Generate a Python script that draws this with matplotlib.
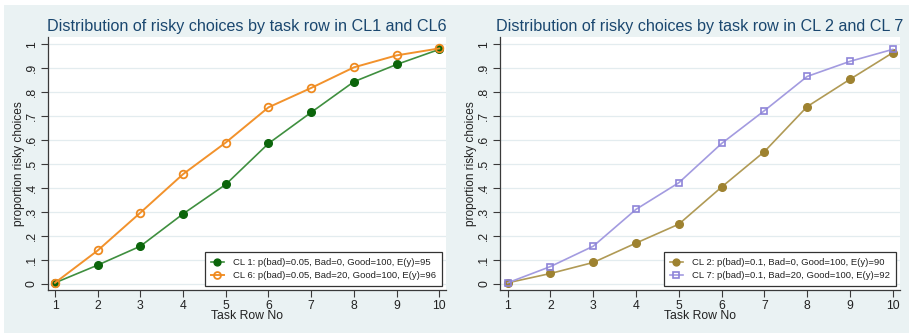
import matplotlib
matplotlib.use("Agg")
import matplotlib.pyplot as plt
from matplotlib.patches import Rectangle

plt.rcParams['font.family'] = ['Liberation Sans', 'DejaVu Sans']

task_rows = [1, 2, 3, 4, 5, 6, 7, 8, 9, 10]

cl1 = [0.004, 0.078, 0.157, 0.292, 0.415, 0.586, 0.716, 0.844, 0.916, 0.979]
cl6 = [0.004, 0.139, 0.297, 0.458, 0.590, 0.737, 0.818, 0.904, 0.954, 0.983]
cl2 = [0.004, 0.043, 0.089, 0.170, 0.249, 0.404, 0.552, 0.740, 0.854, 0.965]
cl7 = [0.004, 0.072, 0.157, 0.311, 0.422, 0.586, 0.723, 0.866, 0.929, 0.979]

label_cl1 = "CL 1: p(bad)=0.05, Bad=0, Good=100, E(y)=95"
label_cl6 = "CL 6: p(bad)=0.05, Bad=20, Good=100, E(y)=96"
label_cl2 = "CL 2: p(bad)=0.1, Bad=0, Good=100, E(y)=90"
label_cl7 = "CL 7: p(bad)=0.1, Bad=20, Good=100, E(y)=92"

title_left = "Distribution of risky choices by task row in CL1 and CL6"
title_right = "Distribution of risky choices by task row in CL 2 and CL 7"

y_ticks = [0, 0.1, 0.2, 0.3, 0.4, 0.5, 0.6, 0.7, 0.8, 0.9, 1.0]
y_tick_labels = ["0", ".1", ".2", ".3", ".4", ".5", ".6", ".7", ".8", ".9", "1"]

BG = "#eaf2f3"
TITLE_COLOR = "#1a476f"
GRID = "#e3ecef"

W, H = 909, 333
fig = plt.figure(figsize=(W / 100, H / 100), dpi=100, facecolor="white")
fig.patches.append(Rectangle((4 / W, 0), 1 - 4 / W, 1 - 5 / H,
                             transform=fig.transFigure, facecolor=BG,
                             edgecolor="none", zorder=-10))


def px_axes(x0, x1, y_top, y_bot):
    return fig.add_axes([x0 / W, (H - y_bot) / H, (x1 - x0) / W, (y_bot - y_top) / H])


def style(ax, title, xlim):
    ax.set_facecolor("white")
    ax.set_xlim(*xlim)
    ax.set_ylim(-0.026, 1.032)
    ax.set_xticks(task_rows)
    ax.set_yticks(y_ticks)
    ax.set_yticklabels(y_tick_labels, rotation=90, va="center")
    for s in ("top", "right"):
        ax.spines[s].set_visible(False)
    for s in ("left", "bottom"):
        ax.spines[s].set_color("#3a3a3a")
        ax.spines[s].set_linewidth(0.9)
    ax.tick_params(axis="both", direction="out", length=5, width=0.8,
                   color="#3a3a3a", labelsize=8.8, labelcolor="#222222", pad=2)
    ax.grid(axis="y", color=GRID, linewidth=0.9)
    ax.set_axisbelow(True)
    ax.set_ylabel("proportion risky choices", fontsize=8.6, color="#222222", labelpad=1)
    ax.set_xlabel("Task Row No", fontsize=8.8, color="#222222", labelpad=-1)
    ax.set_title(title, fontsize=11.6, color=TITLE_COLOR, pad=4)


# left panel: CL1 vs CL6
axL = px_axes(47.7, 446, 36.7, 290)
style(axL, title_left, (0.829, 10.157))
axL.plot(task_rows, cl1, color="#3f8f3f", lw=1.2, marker="o", ms=5.5,
         mfc="#0b650b", mec="#0b650b", label=label_cl1)
axL.plot(task_rows, cl6, color="#f2922c", lw=1.4, marker="o", ms=5.5,
         mfc="none", mec="#ee8a20", mew=1.3, label=label_cl6)

# right panel: CL2 vs CL7
axR = px_axes(500, 900, 36.7, 290)
style(axR, title_right, (0.82, 10.17))
axR.plot(task_rows, cl2, color="#b09a55", lw=1.2, marker="o", ms=5.5,
         mfc="#9e8230", mec="#9e8230", label=label_cl2)
axR.plot(task_rows, cl7, color="#a39be0", lw=1.2, marker="s", ms=5,
         mfc="none", mec="#8d84d8", mew=1.2, label=label_cl7)

for ax in (axL, axR):
    leg = ax.legend(loc="lower right", bbox_to_anchor=(0.99, 0.016), fontsize=6.8,
                    frameon=True, fancybox=False, handlelength=1.4,
                    handletextpad=1.0, borderpad=0.6, labelspacing=0.45,
                    borderaxespad=0, markerscale=0.9)
    fr = leg.get_frame()
    fr.set_edgecolor("#333333")
    fr.set_linewidth(0.9)
    fr.set_facecolor("white")
    fr.set_alpha(1)
    for t in leg.get_texts():
        t.set_color("#222222")

fig.savefig("out.png", dpi=100, facecolor=fig.get_facecolor())
